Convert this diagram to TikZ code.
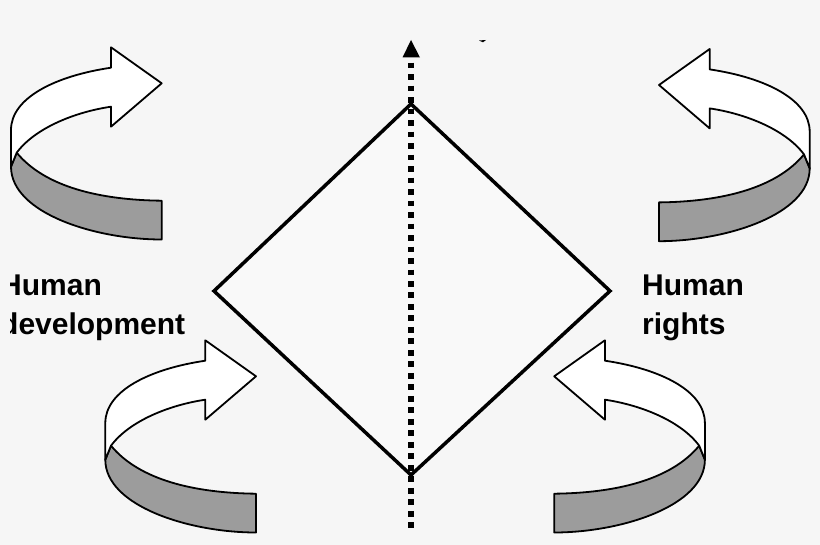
\documentclass[tikz,border=0pt]{standalone}
\usepackage{fontspec}
\setmainfont{Liberation Sans}
\definecolor{bgc}{HTML}{F6F6F6}
\definecolor{band}{HTML}{9C9C9C}
\definecolor{inner}{HTML}{F9F9F9}
\tikzset{
  ribbonline/.style={draw=black,line width=1.8pt,line join=round},
  whiteface/.style={ribbonline,fill=white},
  grayface/.style={ribbonline,fill=band},
  lozenge/.style={draw=black,line width=3.5pt,fill=inner,line join=miter},
  axisdots/.style={draw=black,line width=5.6pt,dash pattern=on 5.7pt off 5.79pt},
  axistip/.style={fill=black,draw=none},
  biglabel/.style={anchor=base west,inner sep=0pt,font=\fontsize{30}{36}\selectfont\bfseries},
}
\newcommand{\ribbonarrow}{%
  \path[grayface] (16.7,152.7) .. controls (45,187) and (100,200) .. (161.7,200.7)
    -- (161.7,239.5) .. controls (95,239.5) and (11,213) .. (11,166.7) -- cycle;
  \path[whiteface] (161.7,83.3) -- (111,47.3) -- (111,67.7)
    .. controls (55,76) and (11,98) .. (11,130) -- (11,166.7) -- (16.7,152.7)
    .. controls (35,128) and (75,112) .. (111,106.7) -- (111,126.7) -- cycle;
}
\begin{document}
\begin{tikzpicture}[x=1pt,y=-1pt]
\useasboundingbox (0,0) rectangle (820,545);
\fill[bgc] (0,0) rectangle (820,545);
% ribbon arrows
\begin{scope}\ribbonarrow\end{scope}
\begin{scope}[shift={(94.3,293)}]\ribbonarrow\end{scope}
\begin{scope}[shift={(820.7,1.7)},xscale=-1]\ribbonarrow\end{scope}
\begin{scope}[shift={(715.9,293)},xscale=-1]\ribbonarrow\end{scope}
% diamond
\coordinate (dT) at (411,104);
\coordinate (dR) at (610,291);
\coordinate (dB) at (411,475);
\coordinate (dL) at (214,291);
\path[lozenge] (dT) -- (dR) -- (dB) -- (dL) -- cycle;
% axis
\coordinate (axTop) at (411.2,62.7);
\coordinate (axBot) at (411.2,528);
\coordinate (tipA) at (411,40);
\coordinate (tipB) at (402.5,57.5);
\coordinate (tipC) at (420,57.5);
\path[axisdots] (axTop) -- (axBot);
\path[axistip] (tipA) -- (tipB) -- (tipC) -- cycle;
% small mark
\coordinate (mkA) at (479,40.5);
\coordinate (mkB) at (486,40);
\coordinate (mkC) at (483,42.3);
\path[fill=black] (mkA) -- (mkB) -- (mkC) -- cycle;
% labels
\begin{scope}
\clip (10.3,0) rectangle (820,545);
\node[biglabel] (hd1) at (0,296) {Human};
\node[biglabel] (hd2) at (0,335) {development};
\end{scope}
\node[biglabel] (hr1) at (642,296) {Human};
\node[biglabel] (hr2) at (642,335) {rights};
\end{tikzpicture}
\end{document}
